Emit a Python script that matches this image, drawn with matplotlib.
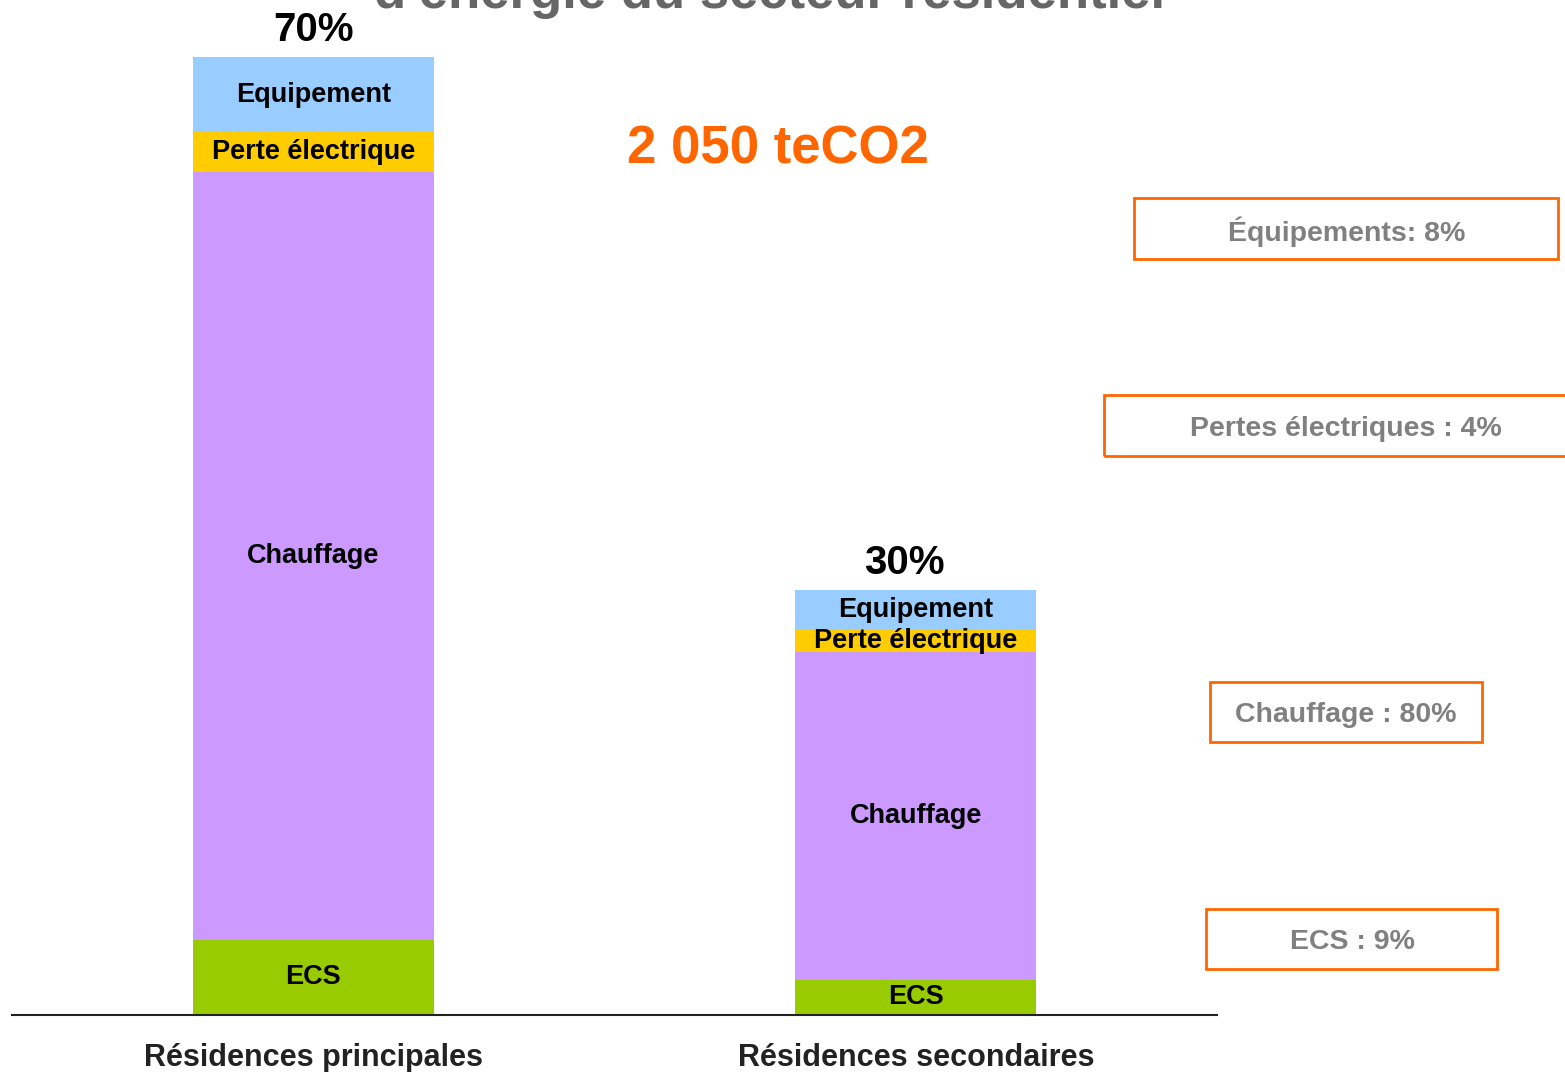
import matplotlib.pyplot as plt
from matplotlib.patches import Rectangle
import numpy as np

plt.rcParams['font.family'] = ['Liberation Sans', 'DejaVu Sans']

# data (bar heights, arbitrary units)
residences = ["Résidences principales", "Résidences secondaires"]
shares = ["70%", "30%"]
segments = ["ECS", "Chauffage", "Perte électrique", "Equipement"]
colors = ["#99CC00", "#CC99FF", "#FFCC00", "#99CCFF"]
ecs = [75, 35]
chauffage = [768, 328]
perte = [40, 22]
equipement = [75, 40]
values = [ecs, chauffage, perte, equipement]

total_label = "2 050 teCO2"
box_labels = ["Équipements: 8%", "Pertes électriques : 4%", "Chauffage : 80%", "ECS : 9%"]

W, H = 1565, 1072
fig = plt.figure(figsize=(W / 100, H / 100), dpi=100)
ax = fig.add_axes([12 / W, 1 - 1015 / H, (1217 - 12) / W, 1015 / H])

x = np.arange(len(residences))
bottom = np.zeros(len(residences))
for name, vals, col in zip(segments, values, colors):
    vals = np.array(vals, dtype=float)
    ax.bar(x, vals, bottom=bottom, width=0.40, color=col, edgecolor='none')
    for xi, b, v in zip(x, bottom, vals):
        ax.text(xi, b + v / 2, name, ha='center', va='center',
                fontsize=19.5, fontweight='bold', color='black')
    bottom += vals

for xi, top, s, dx in zip(x, bottom, shares, [0, -8]):
    ax.annotate(s, (xi, top), xytext=(dx, 6), textcoords='offset points',
                ha='center', va='bottom', fontsize=29, fontweight='bold')

ax.set_xlim(-0.5, 1.5)
ax.set_ylim(0, 1015)
for sp in ['top', 'right', 'left']:
    ax.spines[sp].set_visible(False)
ax.spines['bottom'].set_color('#222222')
ax.spines['bottom'].set_linewidth(1.5)
ax.set_yticks([])
ax.set_xticks(x)
ax.set_xticklabels(residences, fontsize=22, fontweight='bold', color='#222222')
ax.tick_params(axis='x', length=0, pad=20)

# title, clipped at the top of the picture
fig.text(770 / W, 1 - 8 / H, "d'énergie du secteur résidentiel", ha='center',
         va='baseline', fontsize=38, fontweight='bold', color='#666666')

fig.text(778 / W, 1 - 150 / H, total_label, ha='center', va='center',
         fontsize=38, fontweight='bold', color='#FF6600')

# boxes on the right
boxes = [(1134, 198, 1558, 259), (1104, 395, 1575, 456),
         (1210, 682, 1482, 742), (1206, 909, 1497, 969)]
text_x = [1347, 1346, 1346, 1352]
for (x0, y0, x1, y1), lab, tx in zip(boxes, box_labels, text_x):
    fig.patches.append(Rectangle((x0 / W, 1 - y1 / H), (x1 - x0) / W, (y1 - y0) / H,
                                 transform=fig.transFigure, fill=False,
                                 edgecolor='#FF6600', linewidth=2))
    fig.text(tx / W, 1 - ((y0 + y1) / 2 + 3) / H, lab, ha='center', va='center',
             fontsize=20.5, fontweight='bold', color='#808080')

fig.savefig("out.png", dpi=100)
